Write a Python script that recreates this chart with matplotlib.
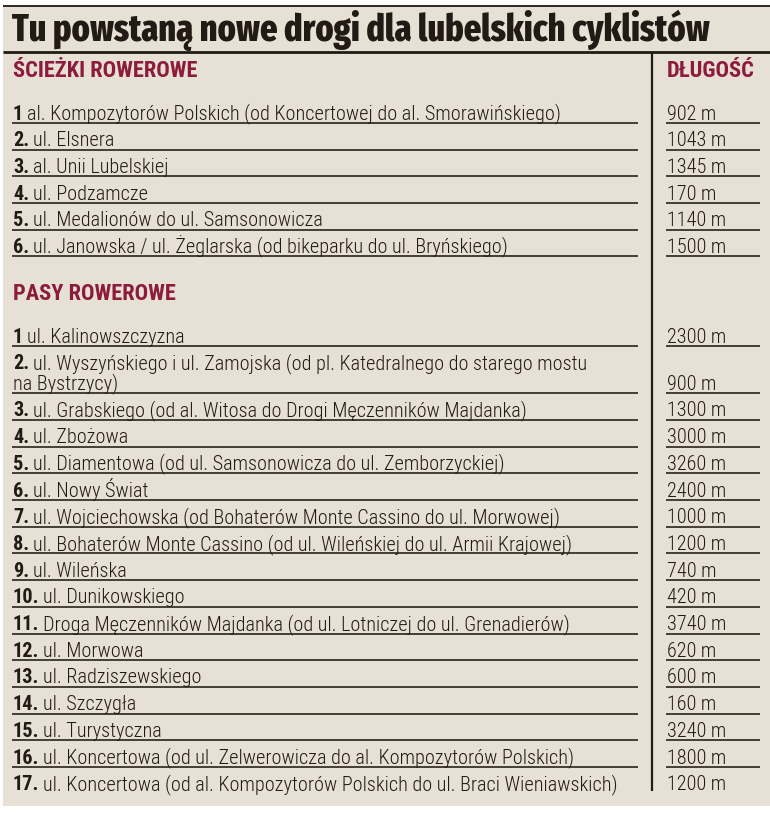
import matplotlib
matplotlib.use("Agg")
import matplotlib.pyplot as plt
from matplotlib.patches import Rectangle

# ---------------- data ----------------
title = "Tu powstaną nowe drogi dla lubelskich cyklistów"
header_paths = "ŚCIEŻKI ROWEROWE"
header_lanes = "PASY ROWEROWE"
header_length = "DŁUGOŚĆ"

paths_nums = ["1", "2.", "3.", "4.", "5.", "6."]
paths_names = [
    "al. Kompozytorów Polskich (od Koncertowej do al. Smorawińskiego)",
    "ul. Elsnera",
    "al. Unii Lubelskiej",
    "ul. Podzamcze",
    "ul. Medalionów do ul. Samsonowicza",
    "ul. Janowska / ul. Żeglarska (od bikeparku do ul. Bryńskiego)",
]
paths_len = [902, 1043, 1345, 170, 1140, 1500]

lanes_nums = ["1", "2.", "3.", "4.", "5.", "6.", "7.", "8.", "9.", "10.",
              "11.", "12.", "13.", "14.", "15.", "16.", "17."]
lanes_names = [
    "ul. Kalinowszczyzna",
    "ul. Wyszyńskiego i ul. Zamojska (od pl. Katedralnego do starego mostu\nna Bystrzycy)",
    "ul. Grabskiego (od al. Witosa do Drogi Męczenników Majdanka)",
    "ul. Zbożowa",
    "ul. Diamentowa (od ul. Samsonowicza do ul. Zemborzyckiej)",
    "ul. Nowy Świat",
    "ul. Wojciechowska (od Bohaterów Monte Cassino do ul. Morwowej)",
    "ul. Bohaterów Monte Cassino (od ul. Wileńskiej do ul. Armii Krajowej)",
    "ul. Wileńska",
    "ul. Dunikowskiego",
    "Droga Męczenników Majdanka (od ul. Lotniczej do ul. Grenadierów)",
    "ul. Morwowa",
    "ul. Radziszewskiego",
    "ul. Szczygła",
    "ul. Turystyczna",
    "ul. Koncertowa (od ul. Zelwerowicza do al. Kompozytorów Polskich)",
    "ul. Koncertowa (od al. Kompozytorów Polskich do ul. Braci Wieniawskich)",
]
lanes_len = [2300, 900, 1300, 3000, 3260, 2400, 1000, 1200, 740, 420,
             3740, 620, 600, 160, 3240, 1800, 1200]

# ---------------- style ----------------
W, H = 770, 813
BG = "#e7e1d5"
INK = "#221a14"
RED = "#8d1c3c"
TITLE_FONT = "Fira Sans Extra Condensed"
HEAD_FONT = "Roboto Condensed"
BODY_FONT = "Roboto Condensed"

fig = plt.figure(figsize=(W / 100, H / 100), dpi=100)
fig.patch.set_facecolor("white")
ax = fig.add_axes([0, 0, 1, 1])
ax.set_xlim(0, W)
ax.set_ylim(H, 0)
ax.axis("off")
renderer = fig.canvas.get_renderer()


def width_of(s, size, **kw):
    t = ax.text(0, 0, s, fontsize=size, **kw)
    w = t.get_window_extent(renderer).width
    t.remove()
    return w


def fit(s, target, **kw):
    return 10 * target / width_of(s, 10, **kw)


ax.add_patch(Rectangle((3, 5), W - 3, 801, facecolor=BG, edgecolor="none", zorder=0))
LW = 1.15
ax.plot([3, W], [6, 6], color=INK, lw=1.3, solid_capstyle="butt")
ax.plot([3, W], [52, 52], color=INK, lw=2.0, solid_capstyle="butt")
ax.plot([652, 652], [52, 791], color=INK, lw=1.6, solid_capstyle="butt")

# title
ts = fit(title, 700, family=TITLE_FONT, weight=800)
ax.text(12, 41, title, fontsize=ts, family=TITLE_FONT, weight=800,
        color=INK, va="baseline", ha="left")

# headers
hs = fit(header_paths, 184, family=HEAD_FONT, weight=700)
for txt, x, y in [(header_paths, 13, 77), (header_length, 667, 77),
                  (header_lanes, 13, 300)]:
    ax.text(x, y, txt, fontsize=hs, family=HEAD_FONT, weight=700,
            color=RED, va="baseline", ha="left")

bs = fit(paths_nums[0] + " " + paths_names[0], 549, family=BODY_FONT, weight=300)
space = 0.8 * (width_of("a a", bs, family=BODY_FONT, weight=300)
               - width_of("aa", bs, family=BODY_FONT, weight=300))
PITCH = 26.7
EXTRA = 20.5


def draw_row(num, name, length, line_y, draw_line=True):
    nlines = name.count("\n") + 1
    base = line_y - 3.5
    first = base - (nlines - 1) * EXTRA
    t = ax.text(13, first, num, fontsize=bs, family=BODY_FONT, weight=700,
                color=INK, va="baseline", ha="left")
    wn = t.get_window_extent(renderer).width
    lines = name.split("\n")
    ax.text(13 + wn + space, first, lines[0], fontsize=bs, family=BODY_FONT,
            weight=300, color=INK, va="baseline", ha="left")
    for k, ln in enumerate(lines[1:], start=1):
        ax.text(13, first + k * EXTRA, ln, fontsize=bs, family=BODY_FONT,
                weight=300, color=INK, va="baseline", ha="left")
    ax.text(667, base, f"{length} m", fontsize=bs, family=BODY_FONT,
            weight=300, color=INK, va="baseline", ha="left")
    if draw_line:
        ax.plot([12, 638], [line_y, line_y], color=INK, lw=LW, solid_capstyle="butt")
        ax.plot([666, 760], [line_y, line_y], color=INK, lw=LW, solid_capstyle="butt")


y = 123.0
for n, nm, ln in zip(paths_nums, paths_names, paths_len):
    draw_row(n, nm, ln, y)
    y += PITCH

y = 346.0
for i, (n, nm, ln) in enumerate(zip(lanes_nums, lanes_names, lanes_len)):
    extra = nm.count("\n") * EXTRA
    y += extra
    draw_row(n, nm, ln, y, draw_line=(i < len(lanes_nums) - 1))
    y += PITCH

fig.savefig("out.png", dpi=100, facecolor="white")
